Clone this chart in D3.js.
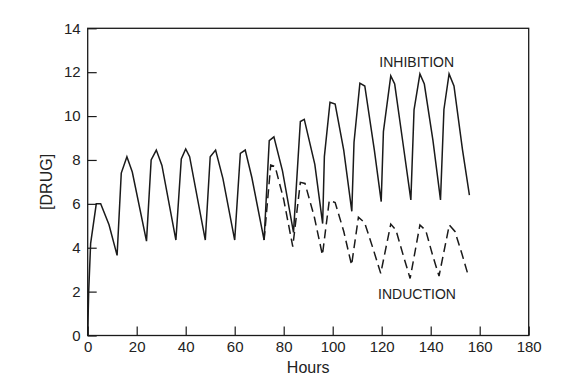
<!DOCTYPE html>
<html>
<head>
<meta charset="utf-8">
<script src="https://cdn.jsdelivr.net/npm/d3@7"></script>
<style>
  body { margin: 0; background: #fff; }
  svg text { font-family: "Liberation Sans", Arial, sans-serif; fill: #222; }
</style>
</head>
<body>
<div class="chart"></div>
<script>
// inhibition: [hours, drug]
const inhibition = [
  [0, 0], [0.4, 2.0], [1.2, 4.2], [3.5, 6.0], [5.3, 6.0], [8.7, 5.05], [12, 3.65],
  [13.7, 7.4], [16, 8.15], [18.2, 7.45], [24, 4.3],
  [25.9, 8.0], [28, 8.45], [30.3, 7.75], [36, 4.35],
  [38.2, 8.05], [40, 8.5], [41.6, 8.15], [48, 4.35],
  [50, 8.15], [52.2, 8.45], [55.2, 7.15], [60, 4.35],
  [62.3, 8.3], [64.3, 8.45], [67, 7.2], [72, 4.35],
  [74.1, 8.88], [76, 9.05], [79.5, 7.5], [84, 4.7],
  [86.8, 9.75], [88.4, 9.85], [92.7, 7.8], [95.9, 5.1],
  [96.6, 8.15], [98.9, 10.63], [101, 10.55], [104.5, 8.45], [107.8, 5.66],
  [108.7, 8.8], [111.1, 11.5], [113.1, 11.37], [117, 8.45], [119.8, 6.1],
  [120.7, 9.29], [123.7, 11.83], [125.3, 11.46], [128.7, 8.75], [131.9, 6.18],
  [133.2, 10.28], [135.6, 11.92], [137.4, 11.46], [140.9, 8.9], [144, 6.18],
  [145.4, 10.3], [147.5, 11.92], [149.5, 11.37], [153, 8.45], [155.8, 6.4]
];

// induction splits off at the 72 h trough
const induction = [
  [72, 4.35], [74.7, 7.77], [76.5, 7.7], [80, 6.2], [83.7, 4.05],
  [86.8, 6.98], [88.7, 6.93], [92.5, 5.4], [95.8, 3.67],
  [98.6, 6.15], [101, 6.06], [104.5, 4.75], [107.7, 3.21],
  [110.5, 5.39], [113, 5.15], [116.5, 3.95], [119.6, 2.83],
  [123.7, 5.08], [125.8, 4.81], [128.8, 3.65], [131.6, 2.6],
  [135.6, 5.04], [138, 4.78], [140.8, 3.65], [143.4, 2.71],
  [147.6, 5.04], [149.9, 4.74], [152.8, 3.7], [155.5, 2.67]
];

const xTicks = [0, 20, 40, 60, 80, 100, 120, 140, 160, 180];
const yTicks = [0, 2, 4, 6, 8, 10, 12, 14];

const width = 564;
const height = 384;
const plotLeft = 87.7, plotRight = 528.7, plotTop = 28.3, plotBottom = 335.5;

const svg = d3
  .select(".chart")
  .append("svg")
  .attr("width", width)
  .attr("height", height);

const x = d3.scaleLinear().domain([0, 180]).range([plotLeft, plotRight]);
const y = d3.scaleLinear().domain([0, 14]).range([plotBottom, plotTop]);

const xAxis = svg
  .append("g")
  .attr("transform", "translate(0," + plotBottom + ")")
  .call(d3.axisBottom(x).tickValues(xTicks).tickSizeInner(-9).tickSizeOuter(0).tickPadding(6));

const yAxis = svg
  .append("g")
  .attr("transform", "translate(" + plotLeft + ",0)")
  .call(d3.axisLeft(y).tickValues(yTicks).tickSizeInner(-9).tickSizeOuter(0).tickPadding(7));

[xAxis, yAxis].forEach((g) => {
  g.select(".domain").remove();
  g.selectAll(".tick line").attr("stroke", "#1a1a1a").attr("stroke-width", 1.2);
  g.selectAll(".tick text")
    .attr("font-size", "15px")
    .attr("font-family", "Liberation Sans, Arial, sans-serif")
    .attr("fill", "#222");
});

svg
  .append("rect")
  .attr("x", plotLeft)
  .attr("y", plotTop)
  .attr("width", plotRight - plotLeft)
  .attr("height", plotBottom - plotTop)
  .attr("fill", "none")
  .attr("stroke", "#1a1a1a")
  .attr("stroke-width", 1.3);

const line = d3
  .line()
  .x((d) => x(d[0]))
  .y((d) => y(d[1]));

svg
  .append("path")
  .datum(inhibition)
  .attr("d", line)
  .attr("fill", "none")
  .attr("stroke", "#1a1a1a")
  .attr("stroke-width", 1.5)
  .attr("stroke-linejoin", "miter");

svg
  .append("path")
  .datum(induction)
  .attr("d", line)
  .attr("fill", "none")
  .attr("stroke", "#1a1a1a")
  .attr("stroke-width", 1.5)
  .attr("stroke-dasharray", "9,5");

svg
  .append("text")
  .attr("x", 416.7)
  .attr("y", 67.3)
  .attr("text-anchor", "middle")
  .attr("font-size", "14px")
  .text("INHIBITION");

svg
  .append("text")
  .attr("x", 417)
  .attr("y", 299.3)
  .attr("text-anchor", "middle")
  .attr("font-size", "14px")
  .text("INDUCTION");

svg
  .append("text")
  .attr("x", (plotLeft + plotRight) / 2)
  .attr("y", 373)
  .attr("text-anchor", "middle")
  .attr("font-size", "16px")
  .text("Hours");

svg
  .append("text")
  .attr("transform", "translate(52," + (plotTop + plotBottom) / 2 + ") rotate(-90)")
  .attr("text-anchor", "middle")
  .attr("font-size", "16px")
  .text("[DRUG]");
</script>
</body>
</html>
